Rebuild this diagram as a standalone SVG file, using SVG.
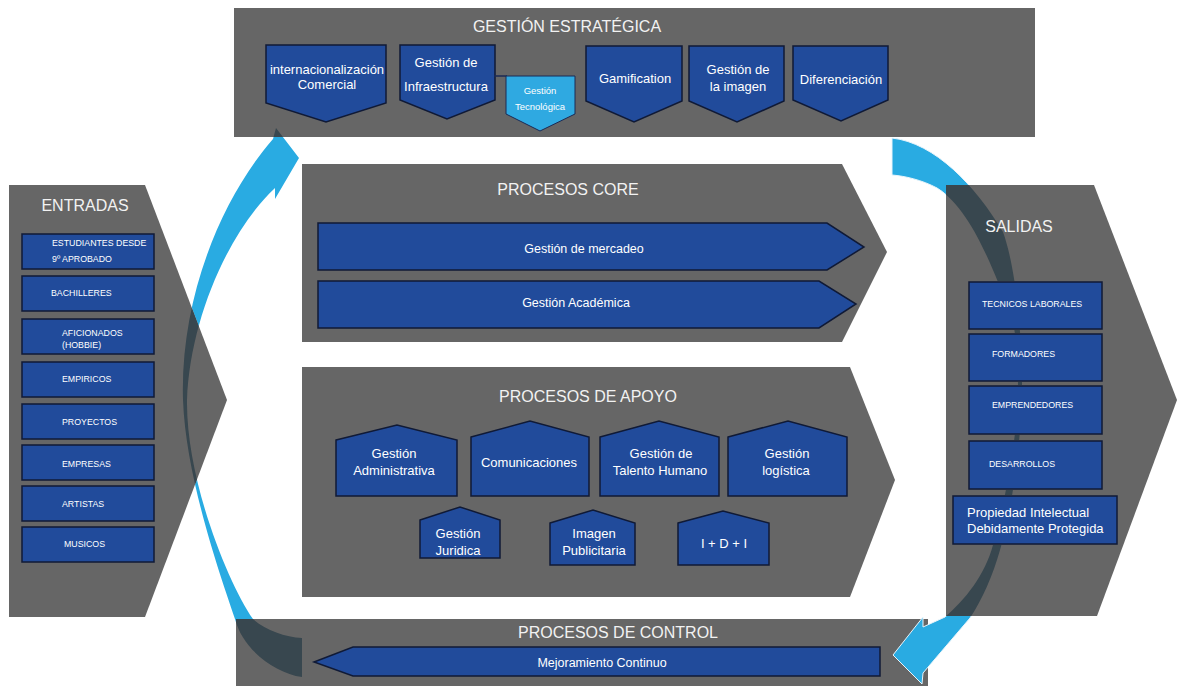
<svg xmlns="http://www.w3.org/2000/svg" width="1177" height="686" viewBox="0 0 1177 686">
<defs>
<style>
.box{fill:#666666}
.node{fill:#214b9b;stroke:#101a36;stroke-width:1.5}
.tec{fill:#2fa9e1;stroke:#1b2a55;stroke-width:1}
.t{font-family:'Liberation Sans',Arial,sans-serif;fill:#ffffff;text-anchor:middle}
.s{text-anchor:start}
.title{font-size:16px;fill:#f2f2f2}
.lbl{font-size:13px}
.core{font-size:12.5px}
.sm{font-size:8.8px}
.tiny{font-size:9.5px}
.light{fill:#29abe2}
.dark{fill:#38474f}
</style>
<path id="arcA" d="M302,677 C275,673 243,650 235,619 C222,580 186,480 183,400 C180,300 220,200 273,139 L276,128 L299,158 L275,199 L275,188 C228,232 190,320 187,400 C186,480 228,583 253,619 C265,630 285,637 302,638 Z"/>
<path id="arcB" d="M892,138 C935,143 975,185 1003,232 C1015,265 1022,330 1022,383 C1022,440 1012,510 1000,550 C993,575 982,600 970,618 L923,673 L922,684 L893,655 L923,617 L923,627 L945,617 C965,600 985,575 993,545 C1005,500 1018,440 1018,383 C1018,330 1010,300 998,282 C985,250 965,205 937,188 C922,180 905,176 892,175 Z"/>
<mask id="mA" maskUnits="userSpaceOnUse" x="0" y="0" width="1177" height="686">
<rect x="0" y="0" width="1177" height="686" fill="#fff"/>
<rect x="234" y="8" width="801" height="129" fill="#000"/>
<polygon points="9,185 145,185 227,400 145,617 9,617" fill="#000"/>
<rect x="236" y="619" width="692" height="67" fill="#000"/>
</mask>
<clipPath id="cA">
<rect x="234" y="8" width="801" height="129"/>
<polygon points="9,185 145,185 227,400 145,617 9,617"/>
<rect x="236" y="619" width="692" height="67"/>
</clipPath>
<mask id="mB" maskUnits="userSpaceOnUse" x="0" y="0" width="1177" height="686">
<rect x="0" y="0" width="1177" height="686" fill="#fff"/>
<polygon points="946,185 1094,185 1177,400 1097,616 946,616" fill="#000"/>
</mask>
<mask id="mBd" maskUnits="userSpaceOnUse" x="0" y="0" width="1177" height="686">
<polygon points="946,185 1094,185 1177,400 1097,616 946,616" fill="#fff"/>
<rect x="968" y="281" width="135" height="49" fill="#000"/>
<rect x="968" y="333" width="135" height="49" fill="#000"/>
<rect x="968" y="385" width="135" height="50" fill="#000"/>
<rect x="968" y="440" width="135" height="50" fill="#000"/>
<rect x="952" y="495" width="166" height="50" fill="#000"/>
</mask>
</defs>
<rect x="0" y="0" width="1177" height="686" fill="#ffffff"/>

<g id="gestion-estrategica">
<rect class="box" x="234" y="8" width="801" height="129"/>
<text class="t title" x="567" y="32">GESTIÓN ESTRATÉGICA</text>
<g id="internacionalizacion">
<polygon class="node" points="266,45 386,45 386,103 326,122 266,103"/>
<text class="t lbl" x="327" y="74">internacionalización</text>
<text class="t lbl" x="327" y="89">Comercial</text>
</g>
<g id="infraestructura">
<polygon class="node" points="400,45 495,45 495,100 447,119 400,100"/>
<text class="t lbl" x="446" y="67">Gestión de</text>
<text class="t lbl" x="446" y="91">Infraestructura</text>
</g>
<g id="tecnologica">
<line x1="494" y1="76" x2="507" y2="76" stroke="#1b2a55" stroke-width="1.5"/>
<polygon class="tec" points="506,76 575,76 575,114 540,131 506,114"/>
<text class="t tiny" x="540" y="94">Gestión</text>
<text class="t tiny" x="540" y="110">Tecnológica</text>
</g>
<g id="gamification">
<polygon class="node" points="586,46 682,46 682,101 634,122 586,101"/>
<text class="t lbl" x="635" y="83">Gamification</text>
</g>
<g id="imagen">
<polygon class="node" points="689,46 784,46 784,101 737,122 689,101"/>
<text class="t lbl" x="738" y="74">Gestión de</text>
<text class="t lbl" x="738" y="91">la imagen</text>
</g>
<g id="diferenciacion">
<polygon class="node" points="793,46 888,46 888,100 841,121 793,100"/>
<text class="t lbl" x="841" y="84">Diferenciación</text>
</g>
</g>

<g id="entradas">
<polygon class="box" points="9,185 145,185 227,400 145,617 9,617"/>
<text class="t title" x="85" y="211">ENTRADAS</text>
<rect class="node" x="22" y="234" width="132" height="35"/>
<text class="t sm s" x="52" y="246">ESTUDIANTES DESDE</text>
<text class="t sm s" x="52" y="262">9º APROBADO</text>
<rect class="node" x="22" y="276" width="132" height="35"/>
<text class="t sm s" x="51" y="296">BACHILLERES</text>
<rect class="node" x="22" y="319" width="132" height="35"/>
<text class="t sm s" x="62" y="336">AFICIONADOS</text>
<text class="t sm s" x="62" y="348">(HOBBIE)</text>
<rect class="node" x="22" y="362" width="132" height="35"/>
<text class="t sm s" x="62" y="382">EMPIRICOS</text>
<rect class="node" x="22" y="404" width="132" height="35"/>
<text class="t sm s" x="62" y="425">PROYECTOS</text>
<rect class="node" x="22" y="445" width="132" height="35"/>
<text class="t sm s" x="62" y="467">EMPRESAS</text>
<rect class="node" x="22" y="486" width="132" height="35"/>
<text class="t sm s" x="62" y="507">ARTISTAS</text>
<rect class="node" x="22" y="527" width="132" height="35"/>
<text class="t sm s" x="64" y="547">MUSICOS</text>
</g>

<g id="salidas-box">
<polygon class="box" points="946,185 1094,185 1177,400 1097,616 946,616"/>
</g>

<g id="procesos-core">
<polygon class="box" points="302,164 842,164 887,252 842,342 302,342"/>
<text class="t title" x="568" y="195">PROCESOS CORE</text>
<g id="mercadeo">
<polygon class="node" points="318,223 827,223 864,247 827,270 318,270"/>
<text class="t core" x="584" y="253">Gestión de mercadeo</text>
</g>
<g id="academica">
<polygon class="node" points="318,281 819,281 856,304 819,328 318,328"/>
<text class="t core" x="576" y="307">Gestión Académica</text>
</g>
</g>

<g id="procesos-apoyo">
<polygon class="box" points="302,367 850,367 895,480 850,597 302,597"/>
<text class="t title" x="588" y="402">PROCESOS DE APOYO</text>
<g id="administrativa">
<polygon class="node" points="336,440 397,425 457,440 457,496 336,496"/>
<text class="t lbl" x="394" y="458">Gestión</text>
<text class="t lbl" x="394" y="475">Administrativa</text>
</g>
<g id="comunicaciones">
<polygon class="node" points="471,437 530,421 589,437 589,496 471,496"/>
<text class="t lbl" x="529" y="467">Comunicaciones</text>
</g>
<g id="talento-humano">
<polygon class="node" points="600,437 659,421 719,437 719,496 600,496"/>
<text class="t lbl" x="661" y="458">Gestión de</text>
<text class="t lbl" x="660" y="475">Talento Humano</text>
</g>
<g id="logistica">
<polygon class="node" points="728,437 788,421 847,437 847,496 728,496"/>
<text class="t lbl" x="787" y="458">Gestión</text>
<text class="t lbl" x="786" y="475">logística</text>
</g>
<g id="juridica">
<polygon class="node" points="420,520 460,507 500,520 500,558 420,558"/>
<text class="t lbl" x="458" y="538">Gestión</text>
<text class="t lbl" x="458" y="555">Juridica</text>
</g>
<g id="publicitaria">
<polygon class="node" points="550,523 593,510 635,523 635,565 550,565"/>
<text class="t lbl" x="594" y="538">Imagen</text>
<text class="t lbl" x="594" y="555">Publicitaria</text>
</g>
<g id="idi">
<polygon class="node" points="678,523 723,511 769,523 769,565 678,565"/>
<text class="t lbl" x="724" y="548">I + D + I</text>
</g>
</g>

<g id="procesos-control">
<rect class="box" x="236" y="619" width="692" height="67"/>
<text class="t title" x="618" y="638">PROCESOS DE CONTROL</text>
<g id="mejoramiento">
<polygon class="node" points="314,662 353,647 880,647 880,676 353,676"/>
<text class="t core" x="602" y="667">Mejoramiento Continuo</text>
</g>
</g>

<g id="connectors">
<use href="#arcA" class="light" mask="url(#mA)"/>
<use href="#arcA" class="dark" clip-path="url(#cA)"/>
<use href="#arcB" class="dark" mask="url(#mBd)"/>
<use href="#arcB" class="light" mask="url(#mB)" stroke="#e8f4fb" stroke-width="1"/>
</g>

<g id="salidas">
<text class="t title" x="1019" y="232">SALIDAS</text>
<g id="tecnicos">
<rect class="node" x="969" y="282" width="133" height="47"/>
<text class="t sm s" x="982" y="307">TECNICOS LABORALES</text>
</g>
<g id="formadores">
<rect class="node" x="969" y="334" width="133" height="47"/>
<text class="t sm s" x="992" y="357">FORMADORES</text>
</g>
<g id="emprendedores">
<rect class="node" x="969" y="386" width="133" height="48"/>
<text class="t sm s" x="992" y="408">EMPRENDEDORES</text>
</g>
<g id="desarrollos">
<rect class="node" x="969" y="441" width="133" height="48"/>
<text class="t sm s" x="989" y="467">DESARROLLOS</text>
</g>
<g id="propiedad">
<rect class="node" x="953" y="496" width="164" height="48"/>
<text class="t lbl s" x="967" y="517">Propiedad Intelectual</text>
<text class="t lbl s" x="967" y="533">Debidamente Protegida</text>
</g>
</g>
</svg>
